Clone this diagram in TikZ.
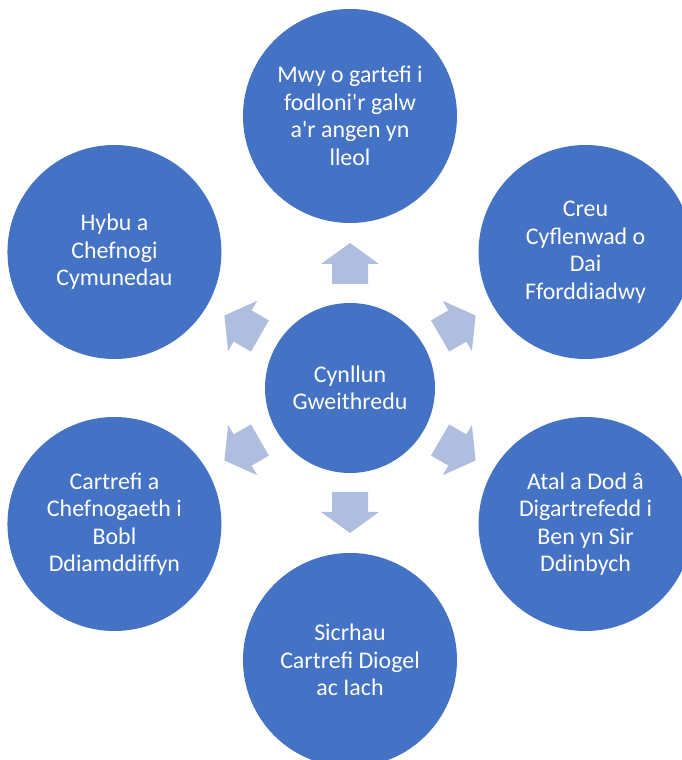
\documentclass[tikz,border=0pt]{standalone}
\usepackage{fontspec}
\setmainfont{Carlito}[Ligatures=TeXOff]
\usepackage{tikz}
\definecolor{goalblue}{RGB}{68,114,196}
\definecolor{arrowblue}{RGB}{175,189,222}

\begin{document}
\begin{tikzpicture}[scale = 1]
    \tikzstyle{goal}=[circle,fill=goalblue,text=white,minimum size=5.35cm,inner sep=0pt,align=center,font=\fontsize{17}{19.6}\selectfont]
    \tikzstyle{hub}=[goal, minimum size=4.25cm];
    \tikzstyle{blockarrow}=[fill=arrowblue];

\useasboundingbox (0,0) rectangle (17.025,19);

\node[hub] (plan) at (8.75,9.3) {Cynllun\\Gweithredu};
\node[goal] (lleol) at (8.75,16.1) {Mwy o gartefi i\\fodloni'r galw\\a'r angen yn\\lleol};
\node[goal] (cyflenwad) at (14.639,12.7) {Creu\\Cyflenwad o\\Dai\\Fforddiadwy};
\node[goal] (digartref) at (14.639,5.9) {Atal a Dod â\\Digartrefedd i\\Ben yn Sir\\Ddinbych};
\node[goal] (diogel) at (8.75,2.5) {Sicrhau\\Cartrefi Diogel\\ac Iach};
\node[goal] (diamddiffyn) at (2.861,5.9) {Cartrefi a\\Chefnogaeth i\\Bobl\\Ddiamddiffyn};
\node[goal] (cymunedau) at (2.861,12.7) {Hybu a\\Chefnogi\\Cymunedau};

\foreach \a in {90,30,-30,-90,-150,150}{
%\draw (plan) -- (\a:6.8);
\begin{scope}[shift={(plan.center)},rotate=\a]
\fill[blockarrow] (2.6,-0.45) -- (3.1,-0.45) -- (3.1,-0.725) -- (3.625,0)
    -- (3.1,0.725) -- (3.1,0.45) -- (2.6,0.45) -- cycle;
\end{scope}
};
\end{tikzpicture}
\end{document}
